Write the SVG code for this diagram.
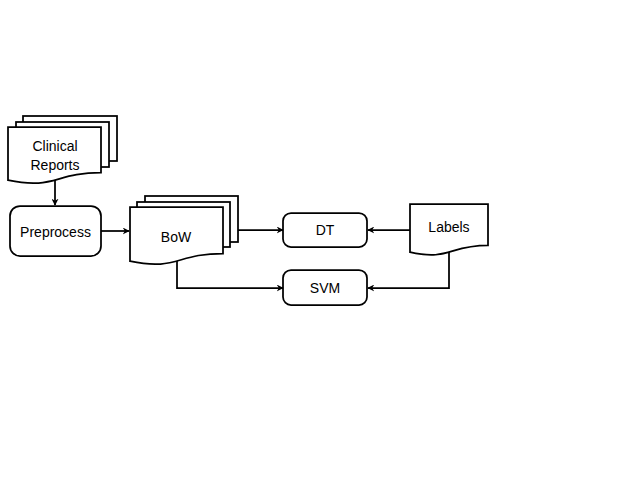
<svg xmlns="http://www.w3.org/2000/svg" width="640" height="482" viewBox="0 0 640 482">
<style>
.s{fill:#fff;stroke:#000;stroke-width:1.75;stroke-linejoin:miter}
.t{font-family:"Liberation Sans",Arial,sans-serif;font-size:14px;fill:#000;text-anchor:middle}
.c{fill:none;stroke:#000;stroke-width:1.75;marker-end:url(#ah)}
</style>
<defs>
<marker id="ah" viewBox="0 0 10 10" refX="9" refY="5" markerWidth="4" markerHeight="4" orient="auto" markerUnits="strokeWidth">
<path d="M0,0 L10,5 L0,10 L3,5 Z" fill="#000"/>
</marker>
</defs>
<rect width="640" height="482" fill="#fff"/>
<g id="clinical-reports">
<rect class="s" x="23" y="116" width="94" height="45"/>
<rect class="s" x="16" y="122" width="93" height="45"/>
<path class="s" d="M8,127 H101 V172.7 C54.5,172.7 54.5,190.1 8,180.2 Z"/>
<text class="t" x="55" y="151">Clinical</text>
<text class="t" x="55" y="170">Reports</text>
</g>
<g id="preprocess">
<rect class="s" x="10" y="206" width="91" height="50" rx="10"/>
<text class="t" x="55.5" y="237">Preprocess</text>
</g>
<g id="bow">
<rect class="s" x="145" y="196" width="93" height="46"/>
<rect class="s" x="137" y="202" width="93" height="45"/>
<path class="s" d="M130,207 H223 V253.5 C176.5,253.5 176.5,271.2 130,261.2 Z"/>
<text class="t" x="176" y="242">BoW</text>
</g>
<g id="dt">
<rect class="s" x="283" y="213" width="84" height="34" rx="8"/>
<text class="t" x="325" y="235">DT</text>
</g>
<g id="svm">
<rect class="s" x="283" y="270" width="84" height="35" rx="8"/>
<text class="t" x="325" y="293">SVM</text>
</g>
<g id="labels">
<path class="s" d="M410,204 H488 V245.4 C449,245.4 449,261.1 410,252.2 Z"/>
<text class="t" x="449" y="232">Labels</text>
</g>
<g id="connectors">
<path class="c" d="M55,180 V205"/>
<path class="c" d="M101,231 H129"/>
<path class="c" d="M238,230 H283"/>
<path class="c" d="M410,230 H368"/>
<path class="c" d="M177,261 V288 H283"/>
<path class="c" d="M449,252 V288 H368"/>
</g>
</svg>
